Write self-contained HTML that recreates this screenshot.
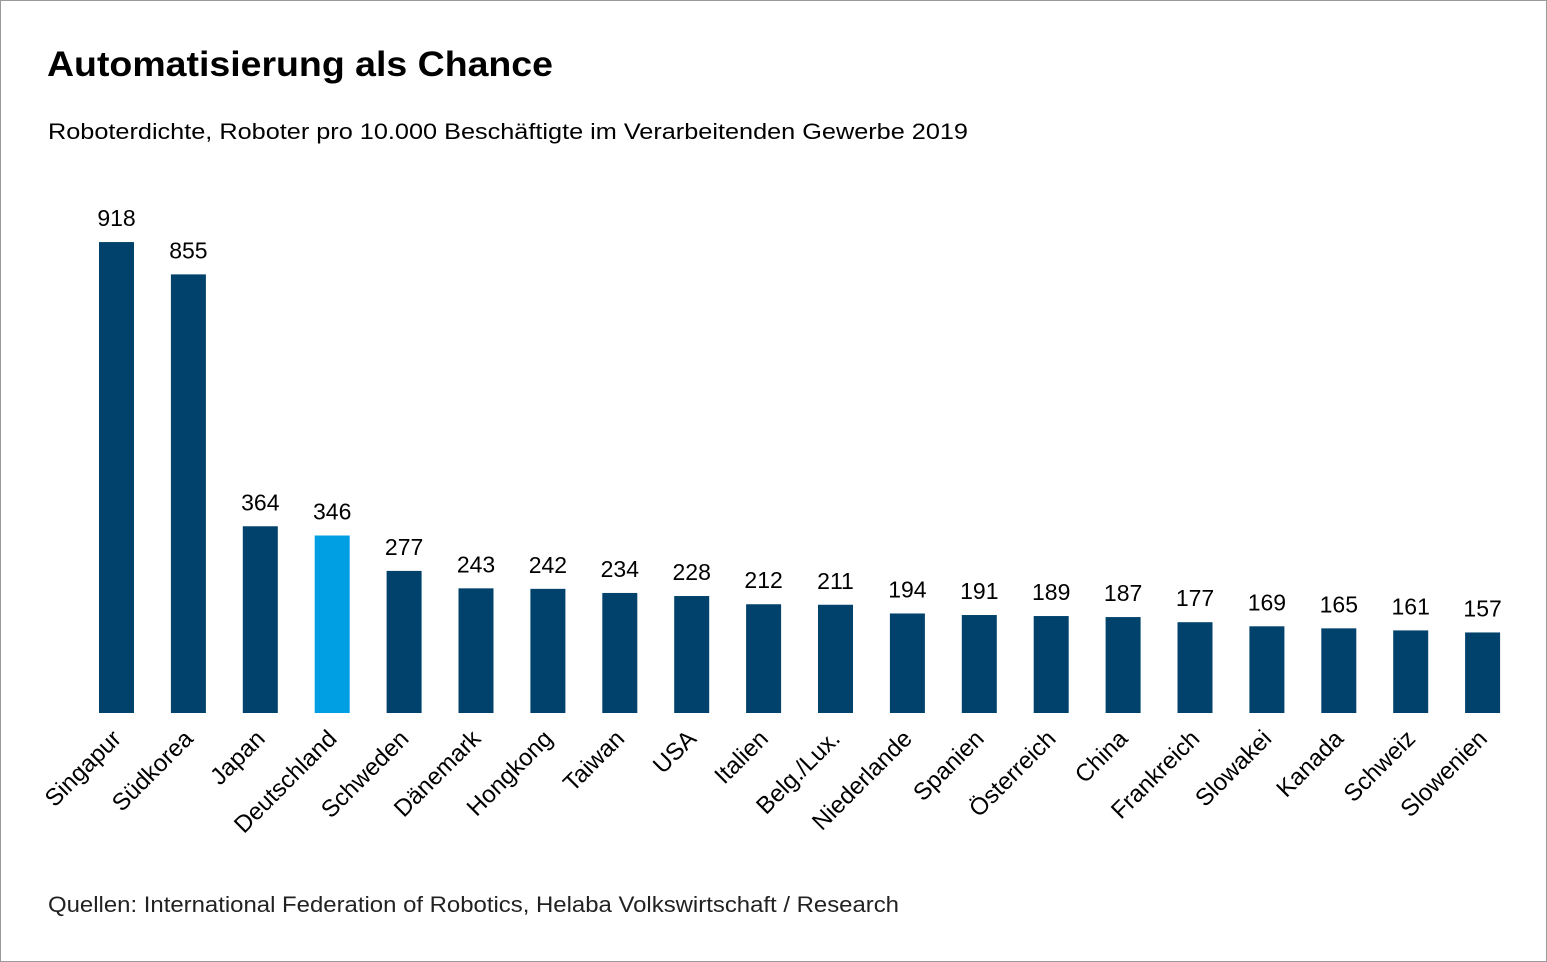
<!DOCTYPE html>
<html><head><meta charset="utf-8"><style>
body{margin:0;background:#fff;}
svg{display:block;font-family:"Liberation Sans",sans-serif;}
</style></head><body>
<svg id="chart" width="1547" height="962">
<rect x="0.5" y="0.5" width="1546" height="961" fill="#fff" stroke="#9a9a9a"/>
<text x="47" y="76" font-size="35" font-weight="bold" fill="#000" textLength="506" lengthAdjust="spacingAndGlyphs">Automatisierung als Chance</text>
<text x="48" y="139" font-size="22" fill="#000" textLength="920" lengthAdjust="spacingAndGlyphs">Roboterdichte, Roboter pro 10.000 Beschäftigte im Verarbeitenden Gewerbe 2019</text>
<text x="48" y="912" font-size="22" fill="#222" textLength="851" lengthAdjust="spacingAndGlyphs">Quellen: International Federation of Robotics, Helaba Volkswirtschaft / Research</text>
<g id="bars"></g>
</svg>
<script>
const categories=["Singapur","Südkorea","Japan","Deutschland","Schweden","Dänemark","Hongkong","Taiwan","USA","Italien","Belg./Lux.","Niederlande","Spanien","Österreich","China","Frankreich","Slowakei","Kanada","Schweiz","Slowenien"];
const values=[918,855,364,346,277,243,242,234,228,212,211,194,191,189,187,177,169,165,161,157];
const highlight="Deutschland";
const NS="http://www.w3.org/2000/svg";
const baseY=713, scale=0.513, x0=99, step=71.9, bw=35;
function xPos(i){return x0+i*step;}
function yPos(v){return baseY-v*scale;}
const g=document.getElementById('bars');
categories.forEach((c,i)=>{
  const v=values[i];
  const r=document.createElementNS(NS,'rect');
  r.setAttribute('x',xPos(i));r.setAttribute('y',yPos(v));
  r.setAttribute('width',bw);r.setAttribute('height',baseY-yPos(v));
  r.setAttribute('fill',c===highlight?'#009fe3':'#00426b');
  
  
  g.appendChild(r);
  const t=document.createElementNS(NS,'text');
  t.setAttribute('x',xPos(i)+bw/2);t.setAttribute('y',yPos(v)-16);
  t.setAttribute('text-anchor','middle');t.setAttribute('font-size','23');
  t.textContent=v;
  
  
  g.appendChild(t);
  const l=document.createElementNS(NS,'text');
  const lx=xPos(i)+bw/2+6, ly=740;
  l.setAttribute('x',lx);l.setAttribute('y',ly);
  l.setAttribute('text-anchor','end');l.setAttribute('font-size','24');
  l.setAttribute('transform','rotate(-45 '+lx+' '+ly+')');
  l.textContent=c;
  
  
  g.appendChild(l);
});
</script>
</body></html>
